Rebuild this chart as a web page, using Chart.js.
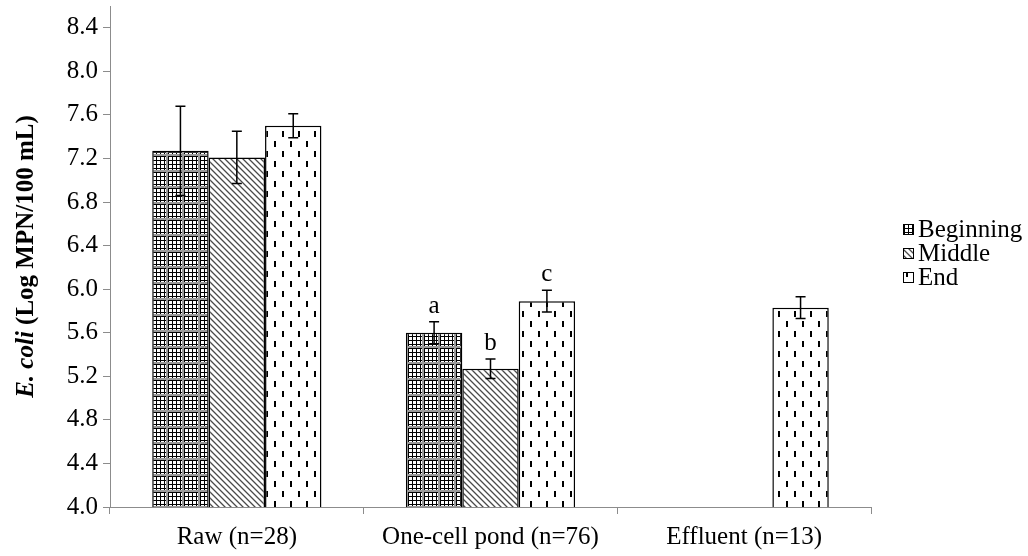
<!DOCTYPE html>
<html>
<head>
<meta charset="utf-8">
<script src="https://cdn.jsdelivr.net/npm/chart.js@4/dist/chart.umd.min.js"></script>
<style>
  html, body { margin: 0; padding: 0; background: #ffffff; }
  #wrap { width: 1028px; height: 556px; }
</style>
</head>
<body>
<div id="wrap"><canvas id="chart" width="1028" height="556"></canvas></div>
<script>
// Sampling locations along the pond system
const categories = ['Raw (n=28)', 'One-cell pond (n=76)', 'Effluent (n=13)'];
const seriesNames = ['Beginning', 'Middle', 'End'];

// Mean E. coli (log MPN/100 mL) per sampling period
const beginning = [7.27, 5.60, null];
const middle    = [7.21, 5.27, null];
const end       = [7.50, 5.89, 5.83];

// Standard error for each mean
const beginningErr = [0.41, 0.10, null];
const middleErr    = [0.24, 0.09, null];
const endErr       = [0.11, 0.10, 0.10];

// Significance letters placed above error bars
const beginningLetters = [null, 'a', null];
const middleLetters    = [null, 'b', null];
const endLetters       = [null, 'c', null];

// Value axis tick labels
const yTicks = [4.0, 4.4, 4.8, 5.2, 5.6, 6.0, 6.4, 6.8, 7.2, 7.6, 8.0, 8.4];

const FONT = "'Liberation Serif', 'Times New Roman', serif";
const AXIS_GRAY = '#8c8c8c';

// ---- fill patterns -------------------------------------------------------
function makeTile(w, h, paint) {
  const c = document.createElement('canvas');
  c.width = w; c.height = h;
  const g = c.getContext('2d');
  g.fillStyle = '#ffffff';
  g.fillRect(0, 0, w, h);
  paint(g);
  return c;
}
const tileBeginning = makeTile(16, 16, g => {
  g.fillStyle = '#000000';
  for (let i = 0; i < 16; i += 4) {
    g.fillRect(i, 0, 1, 16);
    g.fillRect(0, i, 16, 1);
  }
  g.fillStyle = '#9a9a9a';
  g.fillRect(6, 0, 2, 16);
  g.fillRect(0, 10, 16, 2);
});
const tileMiddle = makeTile(6, 6, g => {
  for (let y = 0; y < 6; y++) {
    for (let x = 0; x < 6; x++) {
      const d = ((x - y) % 6 + 6) % 6;
      if (d === 0) { g.fillStyle = '#4a4a4a'; g.fillRect(x, y, 1, 1); }
      else if (d === 1 || d === 5) { g.fillStyle = '#b0b0b0'; g.fillRect(x, y, 1, 1); }
    }
  }
});
const tileEnd = makeTile(16, 20, g => {
  g.fillStyle = '#000000';
  g.fillRect(2, 1, 2, 6);
  g.fillRect(10, 11, 2, 6);
});
const pctx = document.getElementById('chart').getContext('2d');
const patBeginning = pctx.createPattern(tileBeginning, 'repeat');
const patMiddle = pctx.createPattern(tileMiddle, 'repeat');
const patEnd = pctx.createPattern(tileEnd, 'repeat');

const errors = [beginningErr, middleErr, endErr];
const letters = [beginningLetters, middleLetters, endLetters];
const patterns = [patBeginning, patMiddle, patEnd];

// ---- error bars, letters, axis title and legend --------------------------
const errorBarPlugin = {
  id: 'errorBars',
  afterDatasetsDraw(chart) {
    const ctx = chart.ctx;
    const y = chart.scales.y;
    ctx.save();
    ctx.strokeStyle = '#000000';
    ctx.lineWidth = 1.5;
    chart.data.datasets.forEach((ds, i) => {
      const meta = chart.getDatasetMeta(i);
      ds.data.forEach((v, j) => {
        const e = errors[i][j];
        if (v == null || e == null) return;
        const x = meta.data[j].x;
        const yt = y.getPixelForValue(v + e);
        const yb = y.getPixelForValue(v - e);
        ctx.beginPath();
        ctx.moveTo(x, yt); ctx.lineTo(x, yb);
        ctx.moveTo(x - 5, yt); ctx.lineTo(x + 5, yt);
        ctx.moveTo(x - 5, yb); ctx.lineTo(x + 5, yb);
        ctx.stroke();
        const L = letters[i][j];
        if (L) {
          ctx.fillStyle = '#000000';
          ctx.font = '25px ' + FONT;
          ctx.textAlign = 'center';
          ctx.textBaseline = 'alphabetic';
          ctx.fillText(L, x, yt - 9);
        }
      });
    });
    ctx.restore();
  },
  afterDraw(chart) {
    const ctx = chart.ctx;
    const area = chart.chartArea;
    ctx.save();
    // axis title with italic species name
    const part1 = 'E. coli';
    const part2 = ' (Log MPN/100 mL)';
    const f1 = 'italic bold 25px ' + FONT;
    const f2 = 'bold 25px ' + FONT;
    ctx.font = f1; const w1 = ctx.measureText(part1).width;
    ctx.font = f2; const w2 = ctx.measureText(part2).width;
    ctx.translate(27, (area.top + area.bottom) / 2);
    ctx.rotate(-Math.PI / 2);
    ctx.fillStyle = '#000000';
    ctx.textBaseline = 'middle';
    ctx.textAlign = 'left';
    const start = -(w1 + w2) / 2;
    ctx.font = f1; ctx.fillText(part1, start, 0);
    ctx.font = f2; ctx.fillText(part2, start + w1, 0);
    ctx.restore();

    // legend
    ctx.save();
    ctx.font = '25px ' + FONT;
    ctx.textBaseline = 'middle';
    ctx.textAlign = 'left';
    seriesNames.forEach((name, i) => {
      const cy = 229 + i * 24;
      ctx.fillStyle = patterns[i];
      ctx.fillRect(903, cy - 5, 11, 11);
      ctx.strokeStyle = '#000000';
      ctx.lineWidth = 1;
      ctx.strokeRect(903.5, cy - 4.5, 10, 10);
      ctx.fillStyle = '#000000';
      ctx.fillText(name, 918, cy + 1);
    });
    ctx.restore();
  }
};

const mkDataset = (label, data, pat) => ({
  label, data,
  backgroundColor: pat,
  borderColor: '#000000',
  borderWidth: 1.5,
  borderSkipped: false,
  categoryPercentage: 0.667,
  barPercentage: 1.0
});

new Chart(pctx, {
  type: 'bar',
  data: {
    labels: categories,
    datasets: [
      mkDataset(seriesNames[0], beginning, patBeginning),
      mkDataset(seriesNames[1], middle, patMiddle),
      mkDataset(seriesNames[2], end, patEnd)
    ]
  },
  options: {
    responsive: false,
    animation: false,
    devicePixelRatio: 1,
    layout: { autoPadding: false, padding: { top: 6, right: 157, bottom: 0, left: 0 } },
    plugins: {
      legend: { display: false },
      tooltip: { enabled: false }
    },
    scales: {
      x: {
        grid: { offset: true, drawOnChartArea: false, color: AXIS_GRAY, tickLength: 7, lineWidth: 1 },
        border: { color: AXIS_GRAY, width: 1 },
        ticks: { color: '#000000', font: { family: FONT, size: 25 }, padding: 8, maxRotation: 0 },
        afterFit(s) {
          s.height = 49;
          s.paddingLeft = 0; s.paddingRight = 0;
        }
      },
      y: {
        min: 4.0,
        max: 8.6,
        grid: { drawOnChartArea: false, color: AXIS_GRAY, tickLength: 7, lineWidth: 1 },
        border: { color: AXIS_GRAY, width: 1 },
        ticks: {
          color: '#000000',
          font: { family: FONT, size: 25 },
          padding: 5,
          callback: v => Number(v).toFixed(1)
        },
        afterBuildTicks(s) { s.ticks = yTicks.map(v => ({ value: v })); },
        afterFit(s) {
          s.width = 110;
          s.paddingTop = 0; s.paddingBottom = 0;
        }
      }
    }
  },
  plugins: [errorBarPlugin]
});
</script>
</body>
</html>
